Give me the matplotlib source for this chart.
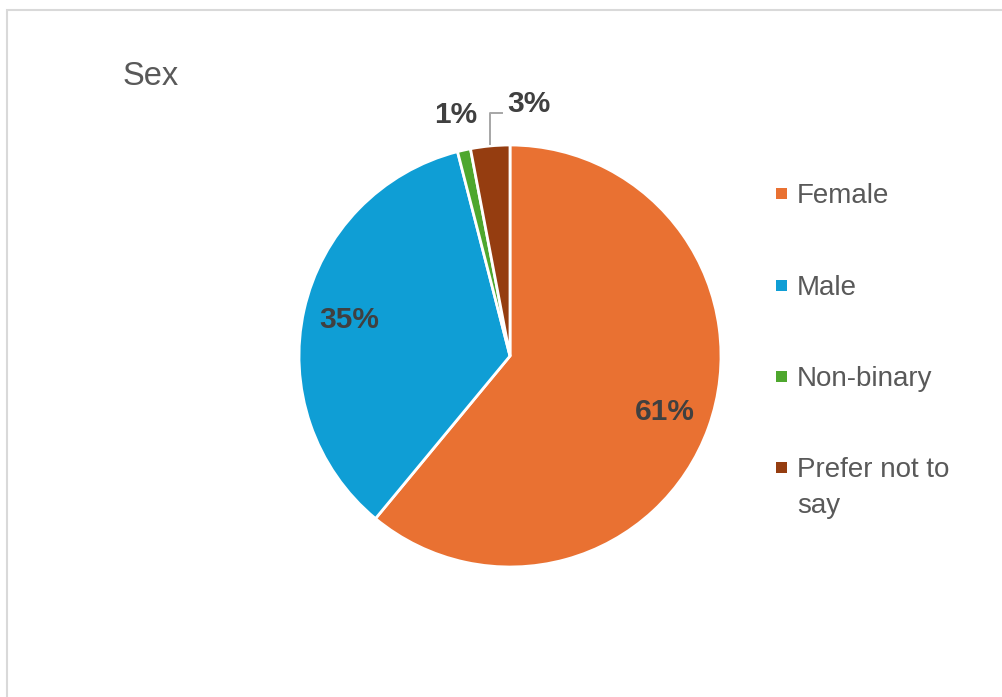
import numpy as np
import matplotlib
matplotlib.use("Agg")
import matplotlib.pyplot as plt
from matplotlib.patches import Rectangle
from matplotlib.lines import Line2D

# Survey responses by sex (percent)
categories = ["Female", "Male", "Non-binary", "Prefer not to say"]
legend_labels = ["Female", "Male", "Non-binary", "Prefer not to\nsay"]
shares = [61, 35, 1, 3]
colors = ["#E97132", "#0F9ED5", "#4EA72E", "#953D10"]
title = "Sex"

W, H = 1003, 697
fig = plt.figure(figsize=(W / 100, H / 100), dpi=100)
fig.patch.set_facecolor("white")

# chart frame (open at the right and bottom edges)
fig.patches.append(Rectangle((7 / W, -0.1), 1.2, 1.1 - 9.5 / H,
                             transform=fig.transFigure, fill=False,
                             edgecolor="#D9D9D9", linewidth=1.5))

fig.text(123 / W, 1 - 85 / H, title, fontsize=23.5, color="#595959",
         family="Liberation Sans", va="baseline", ha="left")

# pie axes
cx, cy, r = 510, H - 356, 211
ax = fig.add_axes([(cx - r) / W, (cy - r) / H, 2 * r / W, 2 * r / H])

wedges, _ = ax.pie(shares, colors=colors, startangle=90, counterclock=False,
                   radius=1, wedgeprops=dict(edgecolor="white", linewidth=2.0))
ax.set_xlim(-1, 1)
ax.set_ylim(-1, 1)
ax.set_aspect("equal")
ax.axis("off")

label_kw = dict(fontsize=21.5, fontweight="bold", color="#404040",
                family="Liberation Sans", ha="center", va="center")
for w, v in zip(wedges, shares):
    mid = np.deg2rad((w.theta1 + w.theta2) / 2)
    if v >= 10:
        ax.text(0.78 * np.cos(mid), 0.78 * np.sin(mid), f"{v}%", **label_kw)

# small slices labelled outside
w_nb = wedges[2]
mid = np.deg2rad((w_nb.theta1 + w_nb.theta2) / 2)
ax.text(1.17 * np.cos(mid), 1.17 * np.sin(mid), f"{shares[2]}%", **label_kw)

w_pn = wedges[3]
mid = np.deg2rad((w_pn.theta1 + w_pn.theta2) / 2)
px, py = np.cos(mid), np.sin(mid)
ly = 1.151
lx_end = -8 / r
ax.add_line(Line2D([px, px, lx_end], [py + 0.01, ly, ly], color="#A6A6A6",
                   linewidth=1.4, clip_on=False))
ax.text(lx_end + 0.025, 1.195, f"{shares[3]}%", **{**label_kw, "ha": "left"})

# legend
rows_y = [193, 285, 376, 467]
line_pitch = 36
for c, lab, yy in zip(colors, legend_labels, rows_y):
    fig.patches.append(Rectangle((775.5 / W, (H - yy - 5.5) / H), 11 / W, 11 / H,
                                 transform=fig.transFigure, facecolor=c,
                                 edgecolor="none"))
    for k, part in enumerate(lab.split("\n")):
        fig.text(797 / W, (H - yy - 10 - k * line_pitch) / H, part,
                 fontsize=20, color="#595959", family="Liberation Sans",
                 ha="left", va="baseline")

fig.savefig("out.png", dpi=100, facecolor="white")
